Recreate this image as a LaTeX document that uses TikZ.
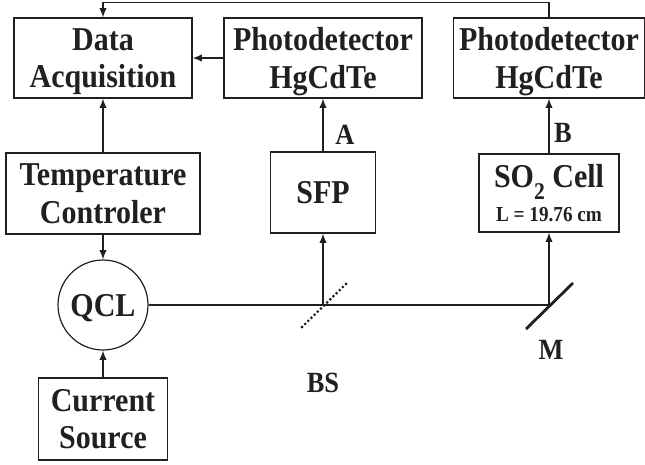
\documentclass[tikz,border=0pt]{standalone}
\usepackage{fontspec}
\usetikzlibrary{arrows.meta}
\newfontfamily\setupfont{Liberation Serif}[FakeStretch=0.9]
\definecolor{SetupInk}{HTML}{231F20}

\begin{document}
\begin{tikzpicture}[x=0.75pt,y=-0.75pt,
    every node/.style={text=SetupInk,font=\setupfont\bfseries\fontsize{25pt}{28pt}\selectfont},
    unit/.style={draw=SetupInk,line width=0.9pt,align=center,inner sep=0pt,text depth=0pt},
    tag/.style={font=\setupfont\bfseries\fontsize{22pt}{24pt}\selectfont},
    beam/.style={SetupInk,line width=0.9pt},
    link/.style={SetupInk,line width=0.9pt,-{Latex[length=7pt,width=5.5pt]}}]
  \useasboundingbox (0,0) rectangle (645,464);

  \node[unit,minimum width=133.5pt,minimum height=60pt] (daq) at (103,58) {Data\\Acquisition};
  \node[unit,minimum width=148.5pt,minimum height=60pt] (pdA) at (323,58) {Photodetector\\HgCdTe};
  \node[unit,minimum width=143pt,minimum height=60pt] (pdB) at (549,58) {Photodetector\\HgCdTe};
  \node[unit,minimum width=145.5pt,minimum height=60.75pt] (tc) at (103,193.5) {Temperature\\Controler};
  \node[unit,minimum width=78.75pt,minimum height=60.75pt] (sfp) at (323,192.5) {SFP};
  \node[unit,minimum width=105pt,minimum height=58.5pt] (so2) at (549,193)
    {SO\raisebox{-9pt}[0pt][0pt]{\fontsize{18pt}{18pt}\selectfont 2} Cell\\[-3pt]{\fontsize{16pt}{18pt}\selectfont L = 19.76 cm}};
  \node[unit,circle,minimum size=67.5pt] (qcl) at (103,305) {QCL};
  \node[unit,minimum width=96.75pt,minimum height=61.5pt] (cs) at (103,419) {Current\\Source};

  \coordinate (bs) at (323,305);
  \coordinate (mir) at (549,305);

  \draw[beam] (qcl.east) -- (mir);
  \draw[SetupInk,line width=2.3pt,line cap=round,dash pattern=on 0pt off 3.3pt]
    ([shift={(-21,22)}]bs) -- ([shift={(24,-22)}]bs);
  \draw[SetupInk,line width=2.1pt] ([shift={(-23,24)}]mir) -- ([shift={(24,-22)}]mir);

  \draw[link] (cs) -- (qcl);
  \draw[link] (tc) -- (qcl);
  \draw[link] (tc) -- (daq);
  \draw[link] (pdA) -- (daq);
  \draw[link] (bs) -- (sfp);
  \draw[link] (sfp) -- (pdA);
  \draw[link] (mir) -- (so2);
  \draw[link] (so2) -- (pdB);
  \draw[link] (pdB.north) -- ++(0,-15) -| (daq.north);

  \node[tag] (labA) at (345,135) {A};
  \node[tag] (labB) at (563,133) {B};
  \node[tag] (labBS) at (323,383) {BS};
  \node[tag] (labM) at (551,350) {M};
\end{tikzpicture}
\end{document}
